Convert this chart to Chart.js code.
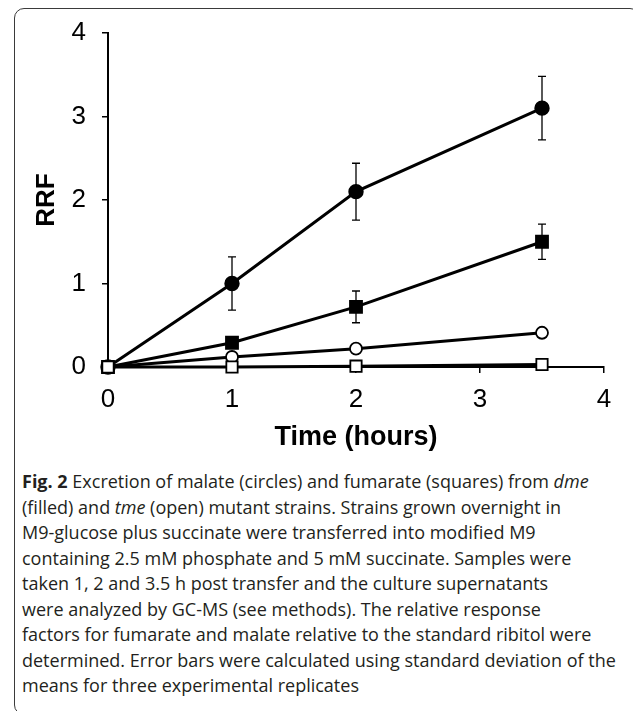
<!DOCTYPE html>
<html>
<head>
<meta charset="utf-8">
<script src="https://cdn.jsdelivr.net/npm/chart.js@4.4.0/dist/chart.umd.min.js"></script>
<style>
  html, body { margin: 0; padding: 0; background: #fff; }
  body { width: 633px; height: 711px; position: relative; overflow: hidden; }
  #frame { position: absolute; left: 14px; top: 8px; width: 626px; height: 707px;
           border: 1.5px solid #3a3a3a; border-radius: 10px; box-sizing: border-box; }
  #chart { position: absolute; left: 0; top: 0; }
  #caption { position: absolute; left: 22px; top: 469px; font-family: "Open Sans", sans-serif;
             font-size: 18px; line-height: 25.5px; color: #231f20; white-space: nowrap; }
</style>
</head>
<body>
<div id="frame"></div>
<canvas id="chart" width="633" height="455"></canvas>
<div id="caption"><b>Fig. 2</b> Excretion of malate (circles) and fumarate (squares) from <i>dme</i><br>(filled) and <i>tme</i> (open) mutant strains. Strains grown overnight in<br>M9-glucose plus succinate were transferred into modified M9<br>containing 2.5 mM phosphate and 5 mM succinate. Samples were<br>taken 1, 2 and 3.5 h post transfer and the culture supernatants<br>were analyzed by GC-MS (see methods). The relative response<br>factors for fumarate and malate relative to the standard ribitol were<br>determined. Error bars were calculated using standard deviation of the<br>means for three experimental replicates</div>
<script>
// values
const times = [0, 1, 2, 3.5];
const xTicks = [0, 1, 2, 3, 4];
const yTicks = [0, 1, 2, 3, 4];

const dmeMalate = [0, 1.0, 2.1, 3.1];
const dmeMalateErr = [0, 0.32, 0.34, 0.38];
const dmeFumarate = [0, 0.29, 0.72, 1.5];
const dmeFumarateErr = [0, 0.04, 0.19, 0.21];
const tmeMalate = [0, 0.12, 0.22, 0.41];
const tmeMalateErr = [0, 0.02, 0.02, 0.05];
const tmeFumarate = [0, 0.0, 0.01, 0.03];
const tmeFumarateErr = [0, 0, 0, 0.01];

const FONT = "'Liberation Sans', Arial, sans-serif";

const pts = vals => vals.map((v, i) => ({ x: times[i], y: v }));

// dataset 0 is drawn on top in Chart.js
const series = [
  { label: 'tme fumarate', data: pts(tmeFumarate), err: tmeFumarateErr, style: 'rect', fill: '#fff', r: 8 },
  { label: 'tme malate', data: pts(tmeMalate), err: tmeMalateErr, style: 'circle', fill: '#fff', r: 6 },
  { label: 'dme fumarate', data: pts(dmeFumarate), err: dmeFumarateErr, style: 'rect', fill: '#000', r: 8.5 },
  { label: 'dme malate', data: pts(dmeMalate), err: dmeMalateErr, style: 'circle', fill: '#000', r: 6.8 }
];

const errorBars = {
  id: 'errorBars',
  beforeDatasetsDraw(chart) {
    const { ctx, scales: { x, y } } = chart;
    ctx.save();
    ctx.strokeStyle = '#000';
    ctx.lineWidth = 1.3;
    series.forEach(s => {
      s.data.forEach((p, i) => {
        const e = s.err[i];
        if (!e) return;
        const px = x.getPixelForValue(p.x);
        const top = y.getPixelForValue(p.y + e);
        const bot = y.getPixelForValue(p.y - e);
        ctx.beginPath();
        ctx.moveTo(px, top); ctx.lineTo(px, bot);
        ctx.moveTo(px - 4, top); ctx.lineTo(px + 4, top);
        ctx.moveTo(px - 4, bot); ctx.lineTo(px + 4, bot);
        ctx.stroke();
      });
    });
    ctx.restore();
  }
};

new Chart(document.getElementById('chart'), {
  type: 'line',
  data: {
    datasets: series.map(s => ({
      label: s.label,
      data: s.data,
      borderColor: '#000',
      borderWidth: 3,
      tension: 0,
      clip: false,
      pointStyle: s.style,
      pointRadius: s.r,
      pointBackgroundColor: s.fill,
      pointBorderColor: '#000',
      pointBorderWidth: 1.8
    }))
  },
  options: {
    responsive: false,
    animation: false,
    events: [],
    layout: { padding: { top: 33, right: 29, left: 0, bottom: 0 } },
    plugins: { legend: { display: false }, tooltip: { enabled: false } },
    scales: {
      x: {
        type: 'linear', min: 0, max: 4,
        afterBuildTicks: s => { s.ticks = xTicks.map(v => ({ value: v })); },
        ticks: { color: '#000', font: { family: FONT, size: 26 }, padding: 11 },
        grid: { drawOnChartArea: false, drawTicks: true, tickLength: 6, color: '#000', lineWidth: 1.5 },
        border: { display: true, color: '#000', width: 2 },
        title: { display: true, text: 'Time (hours)', color: '#000',
                 font: { family: FONT, size: 27, weight: 'bold' }, padding: { top: 0, bottom: 1 } },
        afterFit: s => { s.height = 88; }
      },
      y: {
        type: 'linear', min: 0, max: 4,
        afterBuildTicks: s => { s.ticks = yTicks.map(v => ({ value: v })); },
        ticks: { color: '#000', font: { family: FONT, size: 26 }, padding: 16 },
        grid: { drawOnChartArea: false, drawTicks: true, tickLength: 6, color: '#000', lineWidth: 1.5 },
        border: { display: true, color: '#000', width: 2 },
        title: { display: true, text: 'RRF', color: '#000',
                 font: { family: FONT, size: 26, weight: 'bold' }, padding: { top: 31, bottom: 0 } },
        afterFit: s => { s.width = 108; }
      }
    }
  },
  plugins: [errorBars]
});
</script>
</body>
</html>
